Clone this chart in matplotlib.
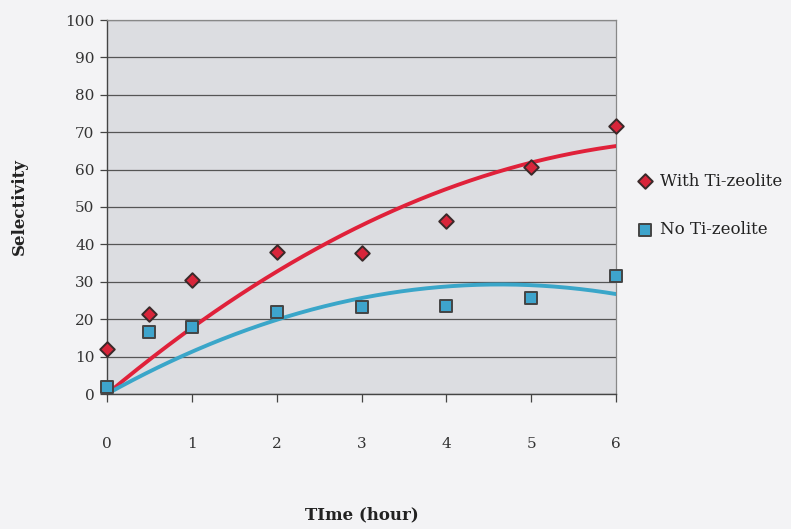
import numpy as np
import matplotlib
matplotlib.use("Agg")
import matplotlib.pyplot as plt

# Reaction time (hours) and selectivity for each catalyst
time_h = [0, 0.5, 1, 2, 3, 4, 5, 6]
with_ti = [12, 21.5, 30.5, 38, 37.7, 46.3, 60.7, 71.7]
no_ti = [2, 16.6, 18, 22, 23.3, 23.5, 25.7, 31.5]

x_ticks = [0, 1, 2, 3, 4, 5, 6]
y_ticks = [0, 10, 20, 30, 40, 50, 60, 70, 80, 90, 100]


def quad_through_origin(x, y):
    """Second-order polynomial trend fitted with zero intercept."""
    x = np.asarray(x, float)
    y = np.asarray(y, float)
    A = np.column_stack([x, x ** 2])
    coef, *_ = np.linalg.lstsq(A, y, rcond=None)
    return coef


W, H = 791, 529
fig = plt.figure(figsize=(W / 100, H / 100), dpi=100)
fig.patch.set_facecolor("#f3f3f5")
ax = fig.add_axes([107 / W, 1 - 394 / H, (616 - 107) / W, (394 - 20) / H])
ax.set_facecolor("#dcdde1")

ax.set_xlim(0, 6)
ax.set_ylim(0, 100)
ax.set_yticks(y_ticks)
ax.set_xticks(x_ticks)
ax.yaxis.grid(True, color="#555555", linewidth=0.9)
ax.set_axisbelow(True)
for side in ["top", "right"]:
    ax.spines[side].set_color("#888888")
    ax.spines[side].set_linewidth(0.9)
for side in ["left", "bottom"]:
    ax.spines[side].set_color("#444444")
    ax.spines[side].set_linewidth(1.0)

ax.tick_params(axis="y", length=5, width=0.9, color="#444444", pad=4)
ax.tick_params(axis="x", length=6, width=0.9, color="#444444", pad=25)
for lab in ax.get_xticklabels() + ax.get_yticklabels():
    lab.set_fontfamily("DejaVu Serif")
    lab.set_fontsize(11)
    lab.set_color("#333333")

# Trend curves
xs = np.linspace(0, 6, 200)
c_red = quad_through_origin(time_h, with_ti)
c_blue = quad_through_origin(time_h, no_ti)
ax.plot(xs, c_red[0] * xs + c_red[1] * xs ** 2, color="#e0213a", lw=2.8, zorder=3)
ax.plot(xs, c_blue[0] * xs + c_blue[1] * xs ** 2, color="#3aa6c9", lw=2.8, zorder=3)

# Measured points
ax.scatter(time_h, with_ti, marker="D", s=55, facecolor="#d8253a",
           edgecolor="#3a2a2a", linewidth=1.4, zorder=4, clip_on=False,
           label="With Ti-zeolite")
ax.scatter(time_h, no_ti, marker="s", s=80, facecolor="#3ea4cc",
           edgecolor="#444444", linewidth=1.4, zorder=4, clip_on=False,
           label="No Ti-zeolite")

ax.set_ylabel("Selectivity", fontfamily="DejaVu Serif", fontweight="bold",
              fontsize=12, color="#222222")
ax.yaxis.set_label_coords(-0.155, 0.5)
ax.set_xlabel("TIme (hour)", fontfamily="DejaVu Serif", fontweight="bold",
              fontsize=12, color="#222222")
ax.xaxis.set_label_coords(0.5, -0.30)

leg = fig.legend(loc="upper left", bbox_to_anchor=(628 / W, 1 - 166 / H),
                 frameon=False, prop=dict(family="DejaVu Serif", size=12),
                 labelspacing=1.9, handletextpad=0.3, handlelength=1.2,
                 borderaxespad=0)
for t in leg.get_texts():
    t.set_color("#222222")

fig.savefig("out.png", dpi=100, facecolor=fig.get_facecolor())
